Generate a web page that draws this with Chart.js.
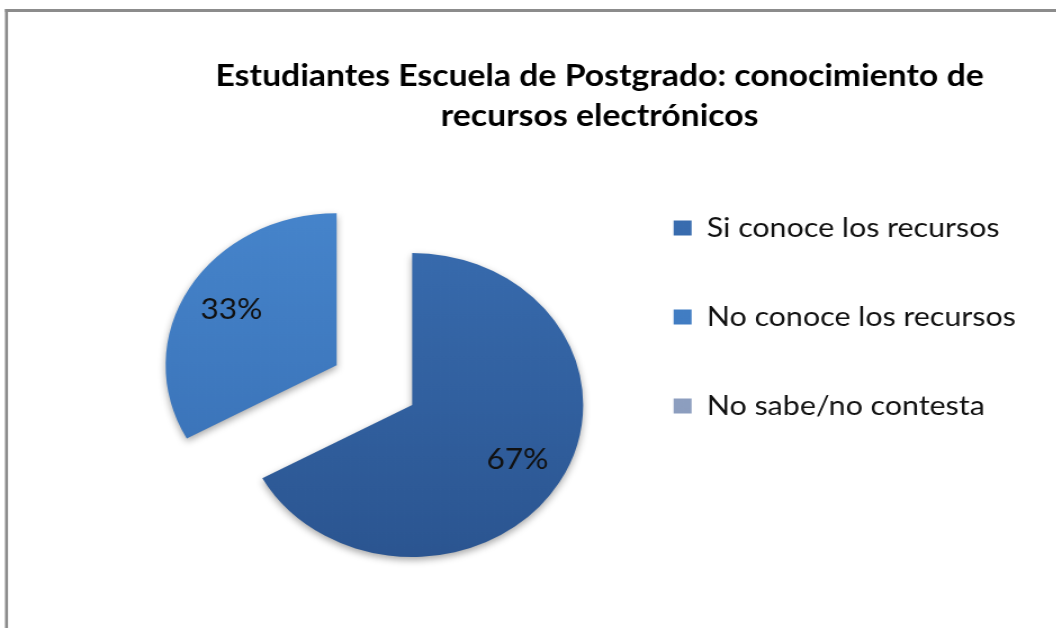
<!DOCTYPE html>
<html lang="es">
<head>
<meta charset="utf-8">
<title>Conocimiento de recursos electrónicos</title>
<script src="https://cdn.jsdelivr.net/npm/chart.js@4.4.1/dist/chart.umd.min.js"></script>
<style>
  html, body { margin: 0; background: #fff; overflow: hidden; width: 1056px; height: 628px; }
  /* el gráfico original es un poco más ancho que alto: se estira en horizontal */
  #grafico { position: absolute; left: 0; top: 0; transform: scaleX(1.125); transform-origin: 0 0; }
</style>
</head>
<body>
<canvas id="grafico" width="939" height="628"></canvas>
<script>
const ESTIRA = 1.125;

const categorias = ['Si conoce los recursos', 'No conoce los recursos', 'No sabe/no contesta'];
const porcentajes = [67, 33, 0];
const titulo = ['Estudiantes Escuela de Postgrado: conocimiento de', 'recursos electrónicos'];

// colores de cada porción (arriba, abajo)
const tonos = [
    ['#3a6fb3', '#28508a'],
    ['#4786cd', '#3368ac'],
    ['#9aaccc', '#7f90b2']
];

function relleno(context) {
    const chart = context.chart;
    const area = chart.chartArea;
    const par = tonos[context.dataIndex] || tonos[0];
    if (!area) return par[0];
    const g = chart.ctx.createLinearGradient(0, area.top, 0, area.bottom);
    g.addColorStop(0, par[0]);
    g.addColorStop(1, par[1]);
    return g;
}

// borde gris arriba y a la izquierda del gráfico
const marco = {
    id: 'marco',
    beforeDraw(chart) {
        const c = chart.ctx;
        const grosor = 3;
        c.save();
        c.fillStyle = '#8c8c8c';
        c.fillRect(5 / ESTIRA, 9, chart.width, grosor);
        c.fillRect(5 / ESTIRA, 9, grosor / ESTIRA, chart.height);
        c.restore();
    }
};

// desplaza hacia fuera las porciones que tengan distancia > 0
const separar = {
    id: 'separar',
    afterDatasetsUpdate(chart, args, opts) {
        const dist = opts.distancias || [];
        chart.getDatasetMeta(0).data.forEach((arc, i) => {
            const d = dist[i] || 0;
            if (!d) return;
            const medio = (arc.startAngle + arc.endAngle) / 2;
            arc.x += Math.cos(medio) * d;
            arc.y += Math.sin(medio) * d;
        });
    }
};

// sombra suave bajo las porciones
const sombra = {
    id: 'sombra',
    beforeDatasetsDraw(chart) {
        const c = chart.ctx;
        c.save();
        c.shadowColor = 'rgba(0, 0, 0, 0.35)';
        c.shadowBlur = 7;
        c.shadowOffsetY = 3;
    },
    afterDatasetsDraw(chart) {
        chart.ctx.restore();
    }
};

// porcentajes dentro de cada porción
const etiquetas = {
    id: 'etiquetas',
    afterDatasetsDraw(chart) {
        const ctx = chart.ctx;
        const valores = chart.data.datasets[0].data;
        ctx.save();
        ctx.font = '28px Lato';
        ctx.fillStyle = '#111';
        ctx.textAlign = 'center';
        ctx.textBaseline = 'middle';
        chart.getDatasetMeta(0).data.forEach((arc, i) => {
            const v = valores[i];
            if (!v) return;
            const medio = (arc.startAngle + arc.endAngle) / 2;
            const r = arc.outerRadius * 0.715;
            ctx.fillText(v + '%', arc.x + Math.cos(medio) * r, arc.y + Math.sin(medio) * r);
        });
        ctx.restore();
    }
};

new Chart(document.getElementById('grafico'), {
    type: 'pie',
    data: {
        // una línea por etiqueta: así el alto de fila de la leyenda sale de lineHeight
        labels: categorias.map(c => [c]),
        datasets: [{
            data: porcentajes,
            backgroundColor: relleno,
            borderWidth: 0,
            radius: 152,
            clip: false
        }]
    },
    options: {
        responsive: false,
        animation: false,
        events: [],
        layout: { padding: { top: 49, bottom: 0, left: 153, right: 26 } },
        plugins: {
            separar: { distancias: [0, 78, 0] },
            title: {
                display: true,
                text: titulo,
                color: '#000',
                font: { family: 'Lato', size: 30, weight: 'bold', lineHeight: '40px' },
                padding: { top: 7, bottom: 46 }
            },
            legend: {
                position: 'right',
                labels: {
                    color: '#111',
                    font: { family: 'Lato', size: 27, lineHeight: '70px' },
                    padding: 19,
                    boxWidth: 16,
                    boxHeight: 15
                }
            },
            tooltip: { enabled: false }
        }
    },
    plugins: [marco, separar, sombra, etiquetas]
});
</script>
</body>
</html>
